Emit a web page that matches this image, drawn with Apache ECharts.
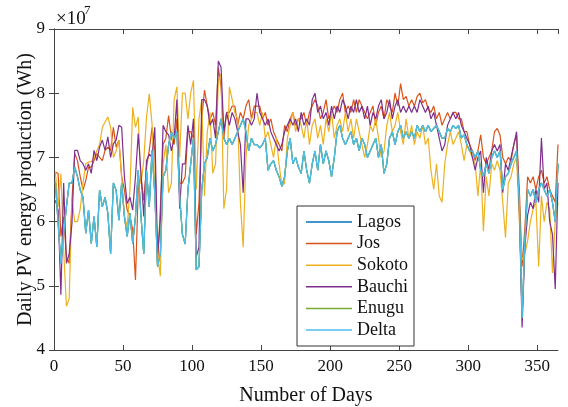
<!DOCTYPE html>
<html>
<head>
<meta charset="utf-8">
<script src="https://cdn.jsdelivr.net/npm/echarts@6/dist/echarts.min.js"></script>
<style>
  html, body { margin: 0; padding: 0; background: #fff; }
  #main { width: 568px; height: 407px; }
</style>
</head>
<body>
<div id="main"></div>
<script>
// values in units of 1e7 Wh, read every second day (day 1, 3, 5 ... 365)
var days = Array.from({ length: 183 }, function (_, i) { return 1 + 2 * i; });
var xTicks = [0, 50, 100, 150, 200, 250, 300, 350];
var yTicks = [4, 5, 6, 7, 8, 9];

var jos = [
  6.77, 6.75, 5.77, 6.08, 5.45, 5.35, 6.33, 7.06, 6.95, 6.7,
  6.49, 6.64, 6.85, 6.85, 6.95, 7.06, 7.0, 6.95, 7.11, 7.16,
  7.11, 7.47, 7.16, 7.27, 6.7, 6.49, 6.18, 6.08, 5.87, 5.09,
  6.49, 6.7, 6.33, 6.85, 7.11, 7.47, 7.11,
  5.3, 6.2, 7.2, 7.3, 7.65, 7.3, 7.2, 7.6, 6.6, 6.6,
  6.7, 7.4, 7.4, 7.3, 5.8, 6.3, 7.6, 8.05, 7.8, 7.6,
  7.7, 7.5, 8.4, 8.1, 7.3, 7.7, 7.7, 7.8, 7.8, 7.5,
  7.7, 7.6, 7.8, 7.9, 7.6, 7.8,
  7.8, 7.8, 7.6, 7.7, 7.5, 7.6, 7.4, 7.3, 7.2, 7.1,
  7.5, 7.4, 7.6, 7.7, 7.5, 7.6, 7.6, 7.7, 7.5, 7.7,
  7.8, 7.9, 7.8, 7.6, 7.7, 7.9, 7.6, 7.7, 7.8, 7.7,
  7.9, 8.0, 7.7, 7.8, 7.7, 7.9,
  7.7, 7.9, 7.8, 7.7, 7.6, 7.7, 7.8, 7.5, 7.7, 7.8,
  7.6, 7.9, 7.8, 7.7, 8.0, 7.8, 8.15, 7.9, 7.95, 7.8,
  7.9, 7.8, 7.95, 8.0, 7.85, 7.9, 7.75, 7.7, 7.8, 7.6,
  7.7, 7.5, 7.6, 7.7, 7.6, 7.7,
  7.7, 7.6, 7.6, 7.4, 7.4, 7.2, 7.1, 6.95, 7.1, 7.35,
  7.0, 6.9, 7.0, 7.1, 7.4, 7.45, 7.35, 7.0, 6.9, 7.0,
  6.95, 7.2, 7.35, 6.5, 5.3, 5.9, 6.7, 6.6, 6.7, 6.5,
  6.7, 6.8, 6.6, 6.7, 6.5, 6.4, 6.3, 7.2
];

var sokoto = [
  6.77, 6.23, 6.75, 5.55, 4.68, 4.8, 6.33, 6.0, 6.0, 6.2,
  6.6, 6.9, 6.93, 6.93, 7.0, 7.1, 7.2, 7.47, 7.55, 7.63,
  7.47, 7.0, 7.1, 7.27, 6.7, 6.08, 5.92, 6.49, 7.78, 7.47,
  7.63, 6.59, 6.95, 7.63, 7.99, 7.52, 6.5,
  5.5, 5.15, 6.9, 7.2, 6.45, 6.6, 7.9, 8.1, 7.0, 8.0,
  8.0, 7.6, 8.0, 8.2, 6.5, 7.6, 7.9, 6.4, 7.4, 7.7,
  6.75, 6.9, 8.2, 8.3, 6.2, 6.5, 8.1, 7.9, 7.7, 7.6,
  6.3, 5.6, 7.0, 7.5, 7.6, 7.7,
  7.7, 7.5, 7.7, 7.3, 7.4, 7.2, 7.0, 7.3, 6.9, 6.55,
  6.6, 7.3, 7.5, 7.7, 7.4, 7.6, 7.5, 7.3, 7.6, 7.2,
  7.5, 7.6, 7.3, 7.5, 7.2, 7.6, 7.4, 7.7, 7.3, 7.5,
  7.6, 7.4, 7.7, 7.4, 7.6, 7.3,
  7.6, 7.4, 7.2, 7.0, 7.2, 7.5, 7.4, 7.6, 7.3, 7.0,
  7.1, 7.5, 7.7, 7.4, 7.5, 7.7, 7.4, 7.2, 7.6, 7.3,
  7.5, 7.2, 7.4, 7.3, 7.5, 7.2, 7.3, 6.8, 6.5, 6.9,
  6.4, 6.3, 6.9, 7.2, 7.4, 7.2,
  7.3, 7.4, 7.2, 6.95, 7.2, 7.1, 7.0, 6.9, 6.4, 6.9,
  5.85, 6.7, 6.4, 6.9, 6.8, 6.95, 6.8, 6.3, 5.75, 6.6,
  6.7, 6.9, 7.0, 6.0, 5.4, 5.5, 5.7, 6.0, 6.2, 6.3,
  5.3, 6.4, 6.0, 6.3, 6.2, 5.2, 6.0, 6.3
];

var bauchi = [
  6.33, 6.18, 4.86, 6.6, 5.35, 5.5, 5.97, 7.11, 7.11, 6.95,
  6.9, 6.8, 6.9, 6.75, 7.11, 6.95, 7.16, 7.27, 7.11, 7.32,
  7.0, 7.21, 7.27, 7.5, 7.47, 6.7, 6.28, 6.38, 6.18, 6.7,
  7.37, 6.75, 6.08, 6.95, 7.05, 7.0, 7.47,
  5.5, 6.0, 7.5, 7.4, 7.35, 7.1, 7.3, 7.9, 6.2, 6.9,
  6.9, 7.5, 7.2, 7.6, 5.45, 5.6, 7.9, 7.9, 7.8, 7.5,
  7.6, 7.3, 8.5, 8.4, 7.4, 7.7, 7.5, 7.7, 7.6, 7.4,
  7.2, 6.45, 7.6, 7.6, 7.5, 7.6,
  8.0, 7.7, 7.6, 7.5, 7.6, 7.4, 7.3, 7.2, 7.1, 7.2,
  7.4, 7.5, 7.6, 7.5, 7.6, 7.4, 7.7, 7.5, 7.6, 7.5,
  7.9, 8.0, 7.7, 7.8, 7.6, 7.7, 7.5, 7.8, 7.6, 7.8,
  7.7, 7.9, 7.8, 7.6, 7.8, 7.7,
  7.9, 7.7, 7.8, 7.6, 7.8, 7.5, 7.7, 7.6, 7.8, 7.9,
  7.6, 7.7, 7.9, 7.6, 7.8, 7.9, 7.7, 7.8, 7.7, 7.8,
  7.7, 7.8, 7.7, 7.9, 7.8, 7.7, 7.8, 7.6, 7.7, 7.5,
  7.3, 7.1, 7.2, 7.5, 7.6, 7.7,
  7.6, 7.7, 7.5, 7.4, 7.3, 7.2, 7.0, 6.8, 7.0, 7.1,
  6.45, 7.0, 6.8, 7.1, 7.2, 7.1, 7.2, 6.45, 6.9, 6.8,
  7.0, 7.2, 7.4, 6.2, 4.35, 5.6, 6.1, 6.3, 6.2, 6.5,
  6.3, 7.3, 6.5, 6.6, 6.0, 5.8, 4.95, 6.6
];

var delta = [
  6.62, 5.97, 5.35, 5.82, 6.23, 6.6, 6.6, 6.85, 6.7, 6.49,
  6.38, 5.82, 6.18, 5.66, 6.08, 5.61, 6.49, 6.23, 6.38, 6.13,
  5.5, 6.6, 6.49, 6.02, 6.6, 6.08, 5.77, 6.13, 5.66, 6.08,
  6.8, 6.08, 5.5, 6.8, 6.23, 7.11, 6.44,
  5.3, 5.5, 6.7, 6.8, 7.2, 7.4, 7.3, 7.4, 6.4, 5.8,
  5.65, 6.5, 6.9, 7.3, 5.25, 5.3, 6.5, 6.9, 7.0, 7.3,
  7.1, 7.2, 7.4, 7.6, 7.3, 7.2, 7.3, 7.2, 7.3, 7.4,
  7.5, 7.6, 7.4, 7.1, 7.3, 7.2,
  7.2, 7.15, 7.2, 7.3, 6.8, 6.9, 6.95, 6.8, 6.7, 6.55,
  6.7, 7.1, 7.3, 6.9, 7.0, 6.85, 6.75, 7.1, 6.8, 6.6,
  6.9, 7.1, 6.8, 7.2, 6.9, 7.1, 6.95, 6.7, 7.0, 7.4,
  7.5, 7.3, 7.2, 7.3, 7.4, 7.2,
  7.3, 7.1, 7.3, 7.2, 7.0, 7.1, 7.2, 7.3, 7.0, 7.2,
  6.75, 6.9, 7.3, 7.4, 7.2, 7.4, 7.5, 7.3, 7.4, 7.3,
  7.4, 7.3, 7.5, 7.4, 7.5, 7.4, 7.5, 7.4, 7.45, 7.5,
  7.4, 7.3, 7.3, 7.45, 7.4, 7.5,
  7.45, 7.5, 7.3, 7.35, 7.2, 7.1, 7.1, 7.0, 7.1, 6.8,
  6.7, 6.9, 6.75, 7.0, 7.1, 7.0, 7.1, 6.5, 6.7, 6.75,
  6.9, 7.0, 7.1, 6.3, 4.5, 5.7, 6.5, 6.4, 6.5, 6.3,
  6.5, 6.6, 6.5, 6.4, 6.5, 6.3, 6.0, 6.9
];

// Lagos and Enugu lie under the Delta trace in the picture
var lagos = delta.slice();
var enugu = delta.slice();

var names = ['Lagos', 'Jos', 'Sokoto', 'Bauchi', 'Enugu', 'Delta'];
var colors = ['#0072BD', '#D95319', '#EDB120', '#7E2F8E', '#77AC30', '#4DBEEE'];
var values = [lagos, jos, sokoto, bauchi, enugu, delta];

var font = 'Liberation Serif';
var axisCol = '#444';

function pairs(arr) {
  return days.map(function (d, i) { return [d, arr[i]]; });
}

var chart = echarts.init(document.getElementById('main'));

var baseX = {
  type: 'value', min: 0, max: 365, interval: 50,
  axisLine: { lineStyle: { color: axisCol, width: 1 } },
  axisTick: { inside: true, length: 5, lineStyle: { color: axisCol } },
  splitLine: { show: false }
};
var baseY = {
  type: 'value', min: 4, max: 9, interval: 1,
  axisLine: { show: true, lineStyle: { color: axisCol, width: 1 } },
  axisTick: { show: true, inside: true, length: 5, lineStyle: { color: axisCol } },
  splitLine: { show: false }
};

var option = {
  animation: false,
  backgroundColor: '#fff',
  color: colors,
  grid: { left: 54, right: 10, top: 29, bottom: 57, containLabel: false, outerBoundsMode: 'none' },
  xAxis: [
    Object.assign({}, baseX, {
      position: 'bottom',
      name: 'Number of Days', nameLocation: 'middle', nameGap: 36, nameMoveOverlap: false,
      nameTextStyle: { fontFamily: font, fontSize: 20, color: '#111' },
      axisLabel: {
        fontFamily: font, fontSize: 17, color: '#111', margin: 8, showMaxLabel: false,
        formatter: function (v) { return xTicks.indexOf(v) >= 0 ? String(v) : ''; }
      }
    }),
    Object.assign({}, baseX, { position: 'top', axisLabel: { show: false } })
  ],
  yAxis: [
    Object.assign({}, baseY, {
      position: 'left',
      name: 'Daily PV energy production (Wh)', nameLocation: 'middle', nameGap: 18, nameMoveOverlap: false,
      nameTextStyle: { fontFamily: font, fontSize: 20, color: '#111' },
      axisLabel: {
        fontFamily: font, fontSize: 17, color: '#111', margin: 9,
        formatter: function (v) { return yTicks.indexOf(v) >= 0 ? String(v) : ''; }
      }
    }),
    Object.assign({}, baseY, { position: 'right', axisLabel: { show: false } })
  ],
  legend: {
    orient: 'vertical', left: 297, top: 206,
    data: names,
    icon: 'rect', itemWidth: 46, itemHeight: 1.5, itemGap: 3.6,
    padding: [7, 6, 7, 9],
    backgroundColor: '#fff', borderColor: '#333', borderWidth: 1, borderRadius: 0,
    textStyle: { fontFamily: font, fontSize: 18, lineHeight: 18, color: '#111' }
  },
  graphic: [
    { type: 'text', left: 56, top: 10, style: { text: '\u00d710', font: '19px "Liberation Serif"', fill: '#111' } },
    { type: 'text', left: 84, top: 4, style: { text: '7', font: '13px "Liberation Serif"', fill: '#111' } }
  ],
  series: names.map(function (n, k) {
    return {
      name: n, type: 'line', data: pairs(values[k]),
      showSymbol: false, symbol: 'none',
      lineStyle: { width: 1.2, color: colors[k] },
      itemStyle: { color: colors[k] }
    };
  })
};

chart.setOption(option);
</script>
</body>
</html>
